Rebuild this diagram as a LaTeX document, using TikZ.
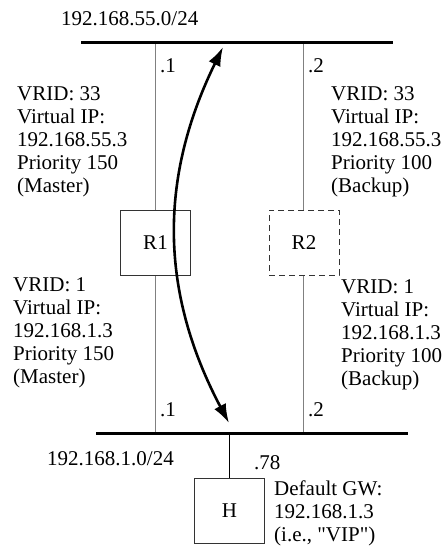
\documentclass[tikz,border=0pt]{standalone}
\usepackage{fontspec}
\setmainfont{Liberation Serif}
\newfontfamily\plainserif{Liberation Serif}
\usetikzlibrary{arrows.meta}

\begin{document}
\begin{tikzpicture}[x=1pt, y=-1pt,
    bus/.style={line width=3pt},
    link/.style={gray, line width=0.9pt},
    rbox/.style={draw=black!80, line width=0.8pt, fill=white, minimum width=70pt, minimum height=65pt, inner sep=0pt, font=\fontsize{21}{23}\selectfont},
    lbl/.style={anchor=west, inner sep=0pt, align=left, font=\fontsize{21}{23}\selectfont}]
    \useasboundingbox (0,0) rectangle (443,547);
    % the two networks
    \coordinate (NetA_l) at (81,42);   \coordinate (NetA_r) at (393,42);
    \coordinate (NetB_l) at (96,433);  \coordinate (NetB_r) at (408,433);
    \coordinate (R1_a) at (155,42);    \coordinate (R1_b) at (155,433);
    \coordinate (R2_a) at (303,42);    \coordinate (R2_b) at (303,433);
    \coordinate (H_a) at (229.5,433);
    \coordinate (V_top) at (223,47);   \coordinate (V_bot) at (229,423);
    \draw[link] (R1_a) -- (R1_b);
    \draw[link] (R2_a) -- (R2_b);
    \node[rbox] (R1) at (155.5,242.5) {R1};
    \node[rbox, dash pattern=on 6pt off 4pt] (R2) at (304,242.5) {R2};
    \node[rbox] (H) at (229.5,510.5) {H};
    \draw[line width=0.8pt] (H_a) -- (H);
    \draw[bus] (NetA_l) -- (NetA_r);
    \draw[bus] (NetB_l) -- (NetB_r);
    % the virtual router moves between R1 and R2
    \draw[line width=2.6pt, {Latex[length=19pt,width=13pt]}-{Latex[length=19pt,width=13pt]}] (V_top) to[bend right=27] (V_bot);
    % labels
    \node[lbl] (netA) at (61,19) {192.168.55.0/24};
    \node[lbl] (netB) at (47,459) {192.168.1.0/24};
    \node[lbl] (r1a) at (160,66) {.1};
    \node[lbl] (r2a) at (308,66) {.2};
    \node[lbl] (r1b) at (160,410) {.1};
    \node[lbl] (r2b) at (308,410) {.2};
    \node[lbl] (h78) at (254,463) {.78};
    \node[lbl] (cfgR1a) at (17,142) {VRID: 33\\Virtual IP:\\192.168.55.3\\Priority 150\\(Master)};
    \node[lbl] (cfgR2a) at (331,142) {VRID: 33\\Virtual IP:\\192.168.55.3\\Priority 100\\(Backup)};
    \node[lbl] (cfgR1b) at (13,333) {VRID: 1\\Virtual IP:\\192.168.1.3\\Priority 150\\(Master)};
    \node[lbl] (cfgR2b) at (341,335) {VRID: 1\\Virtual IP:\\192.168.1.3\\Priority 100\\(Backup)};
    \node[lbl] (cfgH) at (274,513) {Default GW:\\192.168.1.3\\{\plainserif (i.e., "VIP")}};
\end{tikzpicture}
\end{document}
